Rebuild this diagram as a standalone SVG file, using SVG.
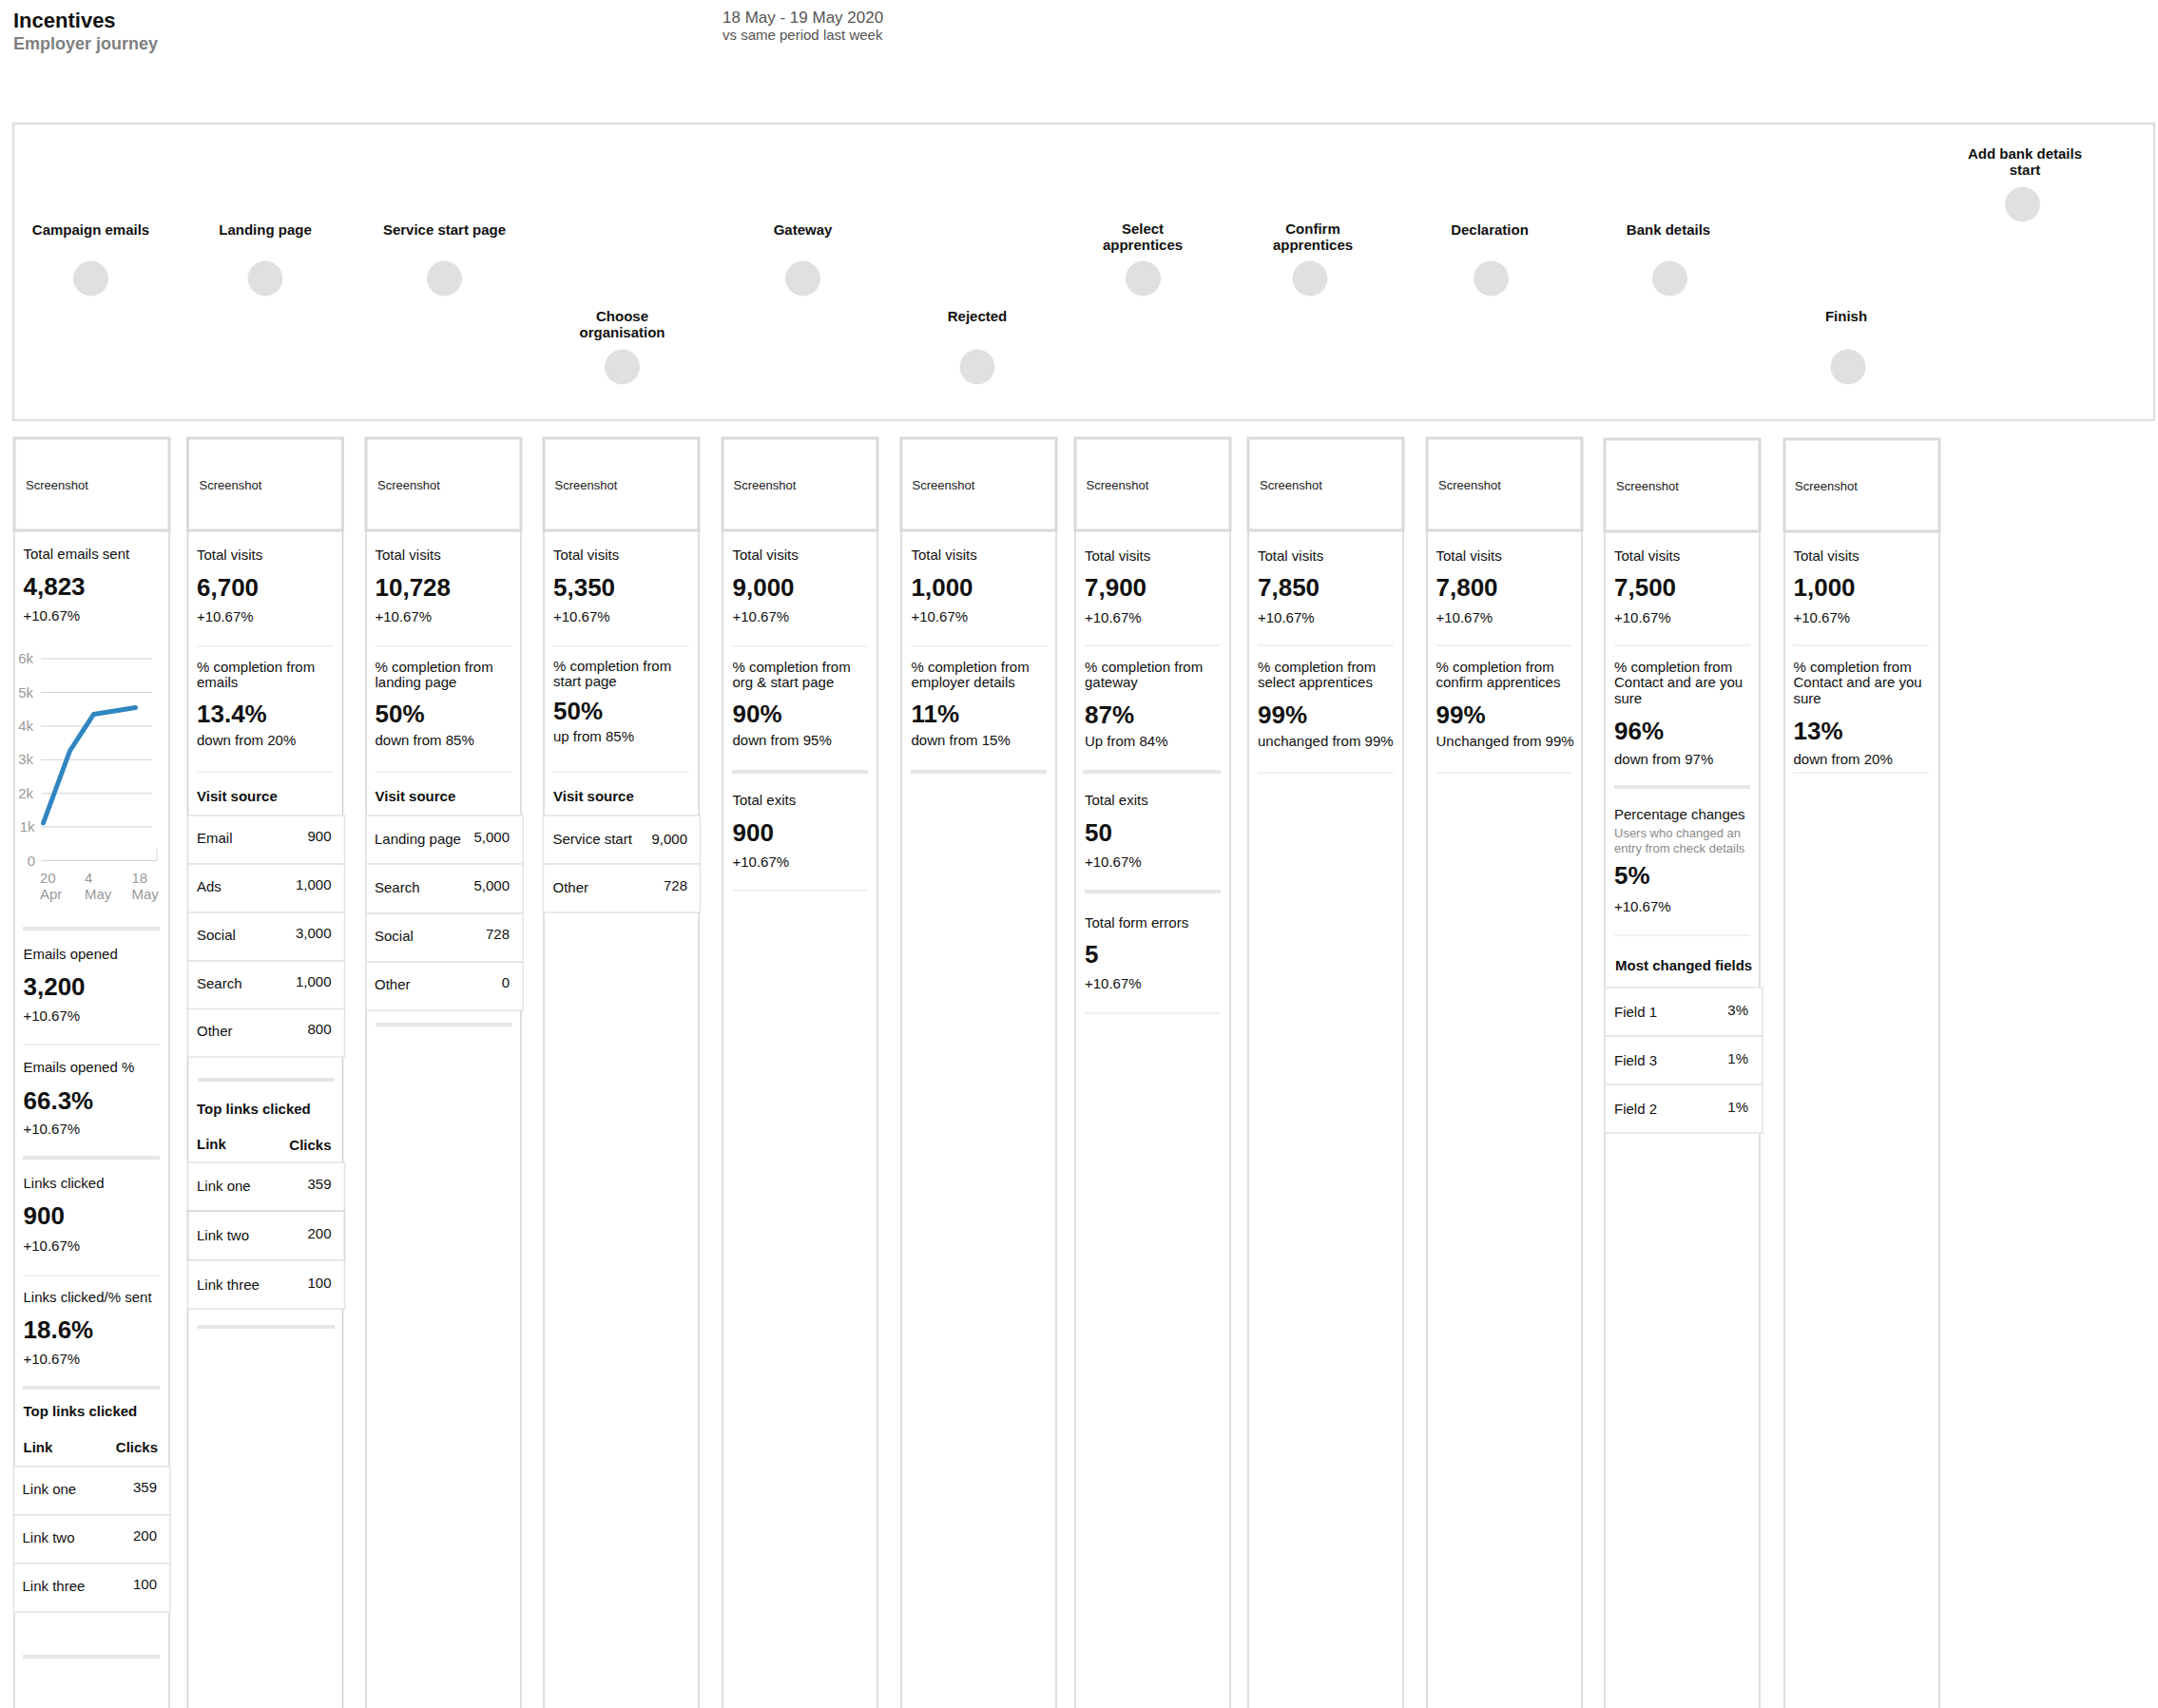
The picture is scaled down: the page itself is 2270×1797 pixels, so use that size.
<svg xmlns="http://www.w3.org/2000/svg" width="2270" height="1797" viewBox="0 0 2270 1797">
<style>
text{font-family:"Liberation Sans",Arial,Helvetica,sans-serif;fill:#111}
.t{font-size:15px}
.b{font-size:26px;font-weight:bold}
.h{font-size:15px;font-weight:bold}
.ss{font-size:13px;fill:#222}
.r{text-anchor:end}
.g{font-size:13px;fill:#8a8a8a}
.ax{font-size:15px;fill:#9a9a9a}
.nl{font-size:15px;font-weight:bold;text-anchor:middle}
.col{fill:#fff;stroke:#dfdfdf;stroke-width:2}
.shot{fill:#fff;stroke:#d9d9d9;stroke-width:3}
.row{fill:#fff;stroke:#e3e3e3;stroke-width:1.5}
.thin{stroke:#ececec;stroke-width:1.5}
.bar{fill:#e6e6e6}
.dot{fill:#e0e0e0}
.grid{stroke:#d4d4d4;stroke-width:1}
</style>
<rect width="2270" height="1797" fill="#fff"/>

<g id="header">
<text x="14" y="29" style="font-size:22px;font-weight:bold">Incentives</text>
<text x="14" y="52" style="font-size:18px;font-weight:bold;fill:#808080">Employer journey</text>
<text x="760" y="24" style="font-size:17px;fill:#555">18 May - 19 May 2020</text>
<text x="760" y="42" style="font-size:15px;fill:#555">vs same period last week</text>
</g>

<g id="journey">
<rect x="14" y="130" width="2252" height="312" fill="#fff" stroke="#e0e0e0" stroke-width="2.5"/>
<g id="node-campaign-emails"><text class="nl" x="95.5" y="247">Campaign emails</text><circle class="dot" cx="95.5" cy="293" r="18.5"/></g>
<g id="node-landing-page"><text class="nl" x="279" y="247">Landing page</text><circle class="dot" cx="279" cy="293" r="18.5"/></g>
<g id="node-service-start-page"><text class="nl" x="467.5" y="247">Service start page</text><circle class="dot" cx="467.5" cy="293" r="18.5"/></g>
<g id="node-choose-organisation"><text class="nl" x="654.5" y="338">Choose</text><text class="nl" x="654.5" y="354.5">organisation</text><circle class="dot" cx="654.5" cy="386" r="18.5"/></g>
<g id="node-gateway"><text class="nl" x="844.5" y="247">Gateway</text><circle class="dot" cx="844.5" cy="293" r="18.5"/></g>
<g id="node-rejected"><text class="nl" x="1028" y="338">Rejected</text><circle class="dot" cx="1028" cy="386" r="18.5"/></g>
<g id="node-select-apprentices"><text class="nl" x="1202" y="246">Select</text><text class="nl" x="1202" y="262.5">apprentices</text><circle class="dot" cx="1202.5" cy="293" r="18.5"/></g>
<g id="node-confirm-apprentices"><text class="nl" x="1381" y="246">Confirm</text><text class="nl" x="1381" y="262.5">apprentices</text><circle class="dot" cx="1378" cy="293" r="18.5"/></g>
<g id="node-declaration"><text class="nl" x="1567" y="247">Declaration</text><circle class="dot" cx="1568.5" cy="293" r="18.5"/></g>
<g id="node-bank-details"><text class="nl" x="1755" y="247">Bank details</text><circle class="dot" cx="1756.5" cy="293" r="18.5"/></g>
<g id="node-finish"><text class="nl" x="1942" y="338">Finish</text><circle class="dot" cx="1944" cy="386" r="18.5"/></g>
<g id="node-add-bank-details-start"><text class="nl" x="2130" y="167">Add bank details</text><text class="nl" x="2130" y="183.5">start</text><circle class="dot" cx="2127.5" cy="215" r="18.5"/></g>
</g>

<g id="connectors"></g>

<!-- Column 1 -->
<g id="col-campaign-emails">
<rect class="col" x="15" y="461" width="163" height="1400"/>
<rect class="shot" x="15" y="461" width="163" height="97"/>
<text class="ss" x="27" y="515">Screenshot</text>
<text class="t" x="24.5" y="588">Total emails sent</text>
<text class="b" x="24.5" y="626">4,823</text>
<text class="t" x="24.5" y="653">+10.67%</text>
<g id="chart">
<line class="grid" x1="43" y1="693" x2="160" y2="693"/>
<line class="grid" x1="43" y1="728.5" x2="160" y2="728.5"/>
<line class="grid" x1="43" y1="764" x2="160" y2="764"/>
<line class="grid" x1="43" y1="799.3" x2="160" y2="799.3"/>
<line class="grid" x1="43" y1="834.7" x2="160" y2="834.7"/>
<line class="grid" x1="43" y1="870" x2="160" y2="870"/>
<line class="grid" x1="43" y1="905.5" x2="165" y2="905.5"/>
<line class="grid" x1="165" y1="893" x2="165" y2="905.5"/>
<text class="ax r" x="35" y="698">6k</text>
<text class="ax r" x="35" y="733.5">5k</text>
<text class="ax r" x="35" y="769">4k</text>
<text class="ax r" x="35" y="804.3">3k</text>
<text class="ax r" x="35" y="839.7">2k</text>
<text class="ax r" x="36.5" y="875">1k</text>
<text class="ax r" x="37" y="910.5">0</text>
<polyline points="45.5,866 73.5,790 98.5,751.5 142.5,744.5" fill="none" stroke="#2f86c1" stroke-width="5" stroke-linejoin="round" stroke-linecap="round"/>
<text class="ax" x="42" y="929">20</text>
<text class="ax" x="42" y="946">Apr</text>
<text class="ax" x="89" y="929">4</text>
<text class="ax" x="89" y="946">May</text>
<text class="ax" x="138.5" y="929">18</text>
<text class="ax" x="138.5" y="946">May</text>
</g>
<rect class="bar" x="24" y="975" width="144" height="4"/>
<text class="t" x="24.5" y="1009">Emails opened</text>
<text class="b" x="24.5" y="1047">3,200</text>
<text class="t" x="24.5" y="1074">+10.67%</text>
<line class="thin" x1="24" y1="1099" x2="168" y2="1099"/>
<text class="t" x="24.5" y="1128">Emails opened %</text>
<text class="b" x="24.5" y="1167">66.3%</text>
<text class="t" x="24.5" y="1193">+10.67%</text>
<rect class="bar" x="24" y="1216" width="144" height="4"/>
<text class="t" x="24.5" y="1250">Links clicked</text>
<text class="b" x="24.5" y="1288">900</text>
<text class="t" x="24.5" y="1316">+10.67%</text>
<line class="thin" x1="24" y1="1342" x2="168" y2="1342"/>
<text class="t" x="24.5" y="1370">Links clicked/% sent</text>
<text class="b" x="24.5" y="1408">18.6%</text>
<text class="t" x="24.5" y="1435">+10.67%</text>
<rect class="bar" x="24" y="1458" width="144" height="4"/>
<text class="h" x="24.5" y="1490">Top links clicked</text>
<text class="h" x="24.5" y="1528">Link</text>
<text class="h r" x="166" y="1528">Clicks</text>
<rect class="row" x="14.5" y="1543" width="164.5" height="51"/>
<rect class="row" x="14.5" y="1594" width="164.5" height="51"/>
<rect class="row" x="14.5" y="1645" width="164.5" height="51"/>
<text class="t" x="23.5" y="1572">Link one</text><text class="t r" x="165" y="1570">359</text>
<text class="t" x="23.5" y="1623">Link two</text><text class="t r" x="165" y="1621">200</text>
<text class="t" x="23.5" y="1674">Link three</text><text class="t r" x="165" y="1672">100</text>
<rect class="bar" x="24" y="1741" width="144" height="4"/>
</g>

<!-- Column 2 -->
<g id="col-landing-page">
<rect class="col" x="197.5" y="461" width="163" height="1400" style="stroke:#cfcfcf;stroke-width:1.5"/>
<rect class="shot" x="197.5" y="461" width="163" height="97"/>
<text class="ss" x="209.5" y="515">Screenshot</text>
<text class="t" x="207" y="589">Total visits</text>
<text class="b" x="207" y="627">6,700</text>
<text class="t" x="207" y="654">+10.67%</text>
<line class="thin" x1="207" y1="680" x2="351" y2="680"/>
<text class="t" x="207" y="707">% completion from</text>
<text class="t" x="207" y="723">emails</text>
<text class="b" x="207" y="760">13.4%</text>
<text class="t" x="207" y="784">down from 20%</text>
<line class="thin" x1="207" y1="812" x2="351" y2="812"/>
<text class="h" x="207" y="843">Visit source</text>
<rect class="row" x="197.5" y="858" width="165" height="51"/>
<rect class="row" x="197.5" y="909" width="165" height="51"/>
<rect class="row" x="197.5" y="960" width="165" height="51"/>
<rect class="row" x="197.5" y="1011" width="165" height="50.5"/>
<rect class="row" x="197.5" y="1061.5" width="165" height="50.5"/>
<text class="t" x="207" y="887">Email</text><text class="t r" x="348.5" y="885">900</text>
<text class="t" x="207" y="938">Ads</text><text class="t r" x="348.5" y="936">1,000</text>
<text class="t" x="207" y="989">Social</text><text class="t r" x="348.5" y="987">3,000</text>
<text class="t" x="207" y="1040">Search</text><text class="t r" x="348.5" y="1038">1,000</text>
<text class="t" x="207" y="1090">Other</text><text class="t r" x="348.5" y="1088">800</text>
<rect class="bar" x="208" y="1134" width="144" height="4"/>
<text class="h" x="207" y="1172">Top links clicked</text>
<text class="h" x="207" y="1209">Link</text>
<text class="h r" x="348.5" y="1210">Clicks</text>
<rect class="row" x="197.5" y="1223" width="165" height="51"/>
<rect class="row" x="197.5" y="1274" width="165" height="52" style="stroke:#dcdcdc;stroke-width:2"/>
<rect class="row" x="197.5" y="1326" width="165" height="51"/>
<text class="t" x="207" y="1253">Link one</text><text class="t r" x="348.5" y="1251">359</text>
<text class="t" x="207" y="1305">Link two</text><text class="t r" x="348.5" y="1303">200</text>
<text class="t" x="207" y="1357">Link three</text><text class="t r" x="348.5" y="1355">100</text>
<rect class="bar" x="208" y="1394" width="144" height="4"/>
</g>

<!-- Column 3 -->
<g id="col-service-start-page">
<rect class="col" x="385" y="461" width="163" height="1400"/>
<rect class="shot" x="385" y="461" width="163" height="97"/>
<text class="ss" x="397" y="515">Screenshot</text>
<text class="t" x="394.5" y="589">Total visits</text>
<text class="b" x="394.5" y="627">10,728</text>
<text class="t" x="394.5" y="654">+10.67%</text>
<line class="thin" x1="394.5" y1="680" x2="538" y2="680"/>
<text class="t" x="394.5" y="707">% completion from</text>
<text class="t" x="394.5" y="723">landing page</text>
<text class="b" x="394.5" y="760">50%</text>
<text class="t" x="394.5" y="784">down from 85%</text>
<line class="thin" x1="394.5" y1="812" x2="538" y2="812"/>
<text class="h" x="394.5" y="843">Visit source</text>
<rect class="row" x="385" y="858" width="165" height="51"/>
<rect class="row" x="385" y="909" width="165" height="52"/>
<rect class="row" x="385" y="961" width="165" height="51"/>
<rect class="row" x="385" y="1012" width="165" height="51"/>
<text class="t" x="394" y="888">Landing page</text><text class="t r" x="536" y="886">5,000</text>
<text class="t" x="394" y="939">Search</text><text class="t r" x="536" y="937">5,000</text>
<text class="t" x="394" y="990">Social</text><text class="t r" x="536" y="988">728</text>
<text class="t" x="394" y="1041">Other</text><text class="t r" x="536" y="1039">0</text>
<rect class="bar" x="395" y="1076" width="143" height="4"/>
</g>

<!-- Column 4 -->
<g id="col-choose-organisation">
<rect class="col" x="572" y="461" width="163" height="1400"/>
<rect class="shot" x="572" y="461" width="163" height="97"/>
<text class="ss" x="583.5" y="515">Screenshot</text>
<text class="t" x="582" y="589">Total visits</text>
<text class="b" x="582" y="627">5,350</text>
<text class="t" x="582" y="654">+10.67%</text>
<line class="thin" x1="582" y1="680" x2="725" y2="680"/>
<text class="t" x="582" y="706">% completion from</text>
<text class="t" x="582" y="722">start page</text>
<text class="b" x="582" y="757">50%</text>
<text class="t" x="582" y="780">up from 85%</text>
<line class="thin" x1="582" y1="812" x2="725" y2="812"/>
<text class="h" x="582" y="843">Visit source</text>
<rect class="row" x="571.5" y="858" width="165" height="51"/>
<rect class="row" x="571.5" y="909" width="165" height="51"/>
<text class="t" x="581.5" y="888">Service start</text><text class="t r" x="723" y="888">9,000</text>
<text class="t" x="581.5" y="939">Other</text><text class="t r" x="723" y="937">728</text>
</g>

<!-- Column 5 -->
<g id="col-gateway">
<rect class="col" x="760" y="461" width="163" height="1400"/>
<rect class="shot" x="760" y="461" width="163" height="97"/>
<text class="ss" x="771.5" y="515">Screenshot</text>
<text class="t" x="770.5" y="589">Total visits</text>
<text class="b" x="770.5" y="627">9,000</text>
<text class="t" x="770.5" y="654">+10.67%</text>
<line class="thin" x1="770" y1="680" x2="913" y2="680"/>
<text class="t" x="770.5" y="707">% completion from</text>
<text class="t" x="770.5" y="723">org &amp; start page</text>
<text class="b" x="770.5" y="760">90%</text>
<text class="t" x="770.5" y="784">down from 95%</text>
<rect class="bar" x="770" y="810" width="143" height="4"/>
<text class="t" x="770.5" y="847">Total exits</text>
<text class="b" x="770.5" y="885">900</text>
<text class="t" x="770.5" y="912">+10.67%</text>
<line class="thin" x1="770" y1="937" x2="913" y2="937"/>
</g>

<!-- Column 6 -->
<g id="col-rejected">
<rect class="col" x="948" y="461" width="163" height="1400"/>
<rect class="shot" x="948" y="461" width="163" height="97"/>
<text class="ss" x="959.5" y="515">Screenshot</text>
<text class="t" x="958.5" y="589">Total visits</text>
<text class="b" x="958.5" y="627">1,000</text>
<text class="t" x="958.5" y="654">+10.67%</text>
<line class="thin" x1="958" y1="680" x2="1101" y2="680"/>
<text class="t" x="958.5" y="707">% completion from</text>
<text class="t" x="958.5" y="723">employer details</text>
<text class="b" x="958.5" y="760">11%</text>
<text class="t" x="958.5" y="784">down from 15%</text>
<rect class="bar" x="958" y="810" width="143" height="4"/>
</g>

<!-- Column 7 -->
<g id="col-select-apprentices">
<rect class="col" x="1131" y="461" width="163" height="1400"/>
<rect class="shot" x="1131" y="461" width="163" height="97"/>
<text class="ss" x="1142.5" y="515">Screenshot</text>
<text class="t" x="1141" y="590">Total visits</text>
<text class="b" x="1141" y="627">7,900</text>
<text class="t" x="1141" y="655">+10.67%</text>
<line class="thin" x1="1141" y1="679" x2="1284" y2="679"/>
<text class="t" x="1141" y="707">% completion from</text>
<text class="t" x="1141" y="723">gateway</text>
<text class="b" x="1141" y="761">87%</text>
<text class="t" x="1141" y="785">Up from 84%</text>
<rect class="bar" x="1139" y="810" width="145" height="4"/>
<text class="t" x="1141" y="847">Total exits</text>
<text class="b" x="1141" y="885">50</text>
<text class="t" x="1141" y="912">+10.67%</text>
<rect class="bar" x="1141" y="936" width="143" height="4"/>
<text class="t" x="1141" y="976">Total form errors</text>
<text class="b" x="1141" y="1013">5</text>
<text class="t" x="1141" y="1040">+10.67%</text>
<line class="thin" x1="1141" y1="1066" x2="1284" y2="1066"/>
</g>

<!-- Column 8 -->
<g id="col-confirm-apprentices">
<rect class="col" x="1313" y="461" width="163" height="1400"/>
<rect class="shot" x="1313" y="461" width="163" height="97"/>
<text class="ss" x="1325" y="515">Screenshot</text>
<text class="t" x="1323" y="590">Total visits</text>
<text class="b" x="1323" y="627">7,850</text>
<text class="t" x="1323" y="655">+10.67%</text>
<line class="thin" x1="1323" y1="679" x2="1466" y2="679"/>
<text class="t" x="1323" y="707">% completion from</text>
<text class="t" x="1323" y="723">select apprentices</text>
<text class="b" x="1323" y="761">99%</text>
<text class="t" x="1323" y="785">unchanged from 99%</text>
<line class="thin" x1="1323" y1="813" x2="1466" y2="813"/>
</g>

<!-- Column 9 -->
<g id="col-declaration">
<rect class="col" x="1501" y="461" width="163" height="1400"/>
<rect class="shot" x="1501" y="461" width="163" height="97"/>
<text class="ss" x="1513" y="515">Screenshot</text>
<text class="t" x="1510.5" y="590">Total visits</text>
<text class="b" x="1510.5" y="627">7,800</text>
<text class="t" x="1510.5" y="655">+10.67%</text>
<line class="thin" x1="1510" y1="679" x2="1653" y2="679"/>
<text class="t" x="1510.5" y="707">% completion from</text>
<text class="t" x="1510.5" y="723">confirm apprentices</text>
<text class="b" x="1510.5" y="761">99%</text>
<text class="t" x="1510.5" y="785">Unchanged from 99%</text>
<line class="thin" x1="1510" y1="813" x2="1653" y2="813"/>
</g>

<!-- Column 10 -->
<g id="col-bank-details">
<rect class="col" x="1688" y="462" width="163" height="1400"/>
<rect class="shot" x="1688" y="462" width="163" height="97"/>
<text class="ss" x="1700" y="516">Screenshot</text>
<text class="t" x="1698" y="590">Total visits</text>
<text class="b" x="1698" y="627">7,500</text>
<text class="t" x="1698" y="655">+10.67%</text>
<line class="thin" x1="1698" y1="679" x2="1841" y2="679"/>
<text class="t" x="1698" y="707">% completion from</text>
<text class="t" x="1698" y="723">Contact and are you</text>
<text class="t" x="1698" y="740">sure</text>
<text class="b" x="1698" y="778">96%</text>
<text class="t" x="1698" y="804">down from 97%</text>
<rect class="bar" x="1698" y="826" width="143" height="4"/>
<text class="t" x="1698" y="862">Percentage changes</text>
<text class="g" x="1698" y="881">Users who changed an</text>
<text class="g" x="1698" y="897">entry from check details</text>
<text class="b" x="1698" y="930">5%</text>
<text class="t" x="1698" y="959">+10.67%</text>
<line class="thin" x1="1698" y1="984" x2="1841" y2="984"/>
<text class="h" x="1699" y="1021">Most changed fields</text>
<rect class="row" x="1688" y="1039" width="166" height="51"/>
<rect class="row" x="1688" y="1090" width="166" height="51"/>
<rect class="row" x="1688" y="1141" width="166" height="51"/>
<text class="t" x="1698" y="1070">Field 1</text><text class="t r" x="1839" y="1068">3%</text>
<text class="t" x="1698" y="1121">Field 3</text><text class="t r" x="1839" y="1119">1%</text>
<text class="t" x="1698" y="1172">Field 2</text><text class="t r" x="1839" y="1170">1%</text>
</g>

<!-- Column 11 -->
<g id="col-finish">
<rect class="col" x="1877" y="462" width="163" height="1400"/>
<rect class="shot" x="1877" y="462" width="163" height="97"/>
<text class="ss" x="1888" y="516">Screenshot</text>
<text class="t" x="1886.5" y="590">Total visits</text>
<text class="b" x="1886.5" y="627">1,000</text>
<text class="t" x="1886.5" y="655">+10.67%</text>
<line class="thin" x1="1886" y1="679" x2="2029" y2="679"/>
<text class="t" x="1886.5" y="707">% completion from</text>
<text class="t" x="1886.5" y="723">Contact and are you</text>
<text class="t" x="1886.5" y="740">sure</text>
<text class="b" x="1886.5" y="778">13%</text>
<text class="t" x="1886.5" y="804">down from 20%</text>
<line class="thin" x1="1886" y1="813" x2="2029" y2="813"/>
</g>
</svg>
